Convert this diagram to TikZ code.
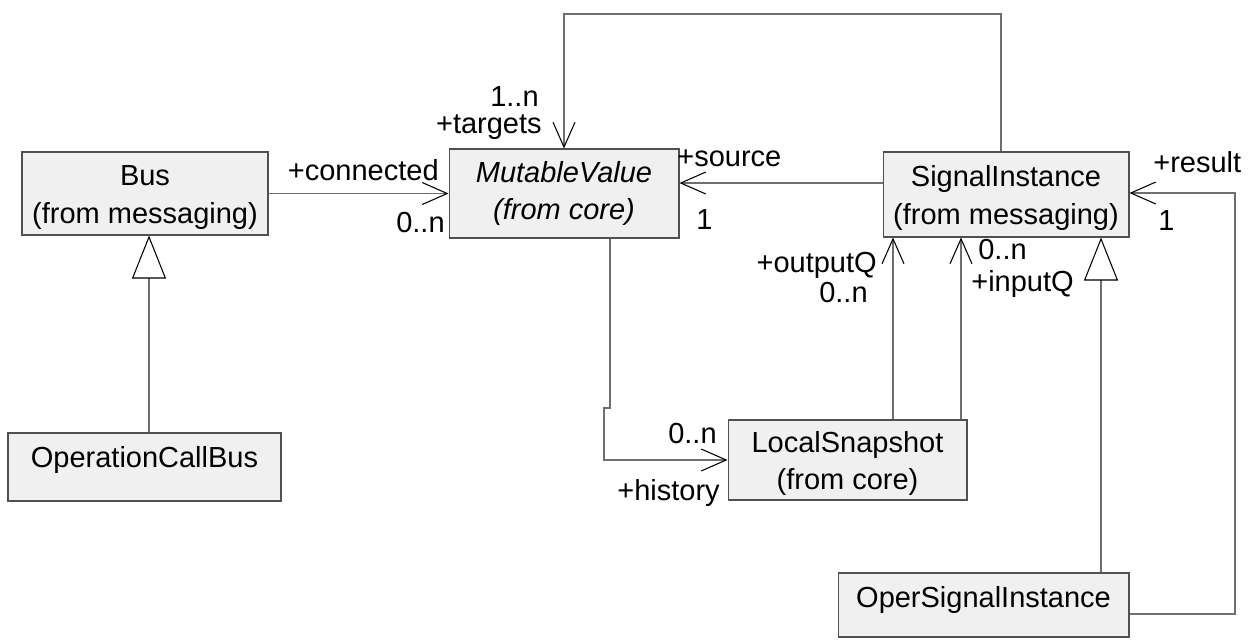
\documentclass[tikz,border=0pt]{standalone}
\usepackage{fontspec}
\setmainfont{Liberation Sans}
\usetikzlibrary{arrows.meta}
\definecolor{boxfill}{RGB}{240,240,240}
\definecolor{boxline}{RGB}{80,80,80}
\definecolor{wire}{RGB}{110,110,110}
% taller first line, pushes a two-line class name a little lower in its box
\newcommand{\headstrut}{\rule{0pt}{15.8pt}}

\begin{document}
\begin{tikzpicture}[x=0.02cm,y=-0.02cm,
  cls/.style={draw=boxline, fill=boxfill, line width=0.6pt, inner sep=0, align=center,
              font=\fontsize{16.5}{21.5}\selectfont},
  lbl/.style={inner sep=0, font=\fontsize{16.5}{20}\selectfont},
  assoc/.style={draw=wire, line width=0.6pt,
                -{Straight Barb[length=5mm,width=4.4mm,color=black,line width=0.6pt]}},
  gen/.style={draw=wire, line width=0.6pt,
              -{Triangle[open,length=8.6mm,width=6.8mm,color=black,fill=white,line width=0.6pt]}},
]
\useasboundingbox (0,0) rectangle (1250,640);

% classes
\node[cls, minimum width=4.92cm, minimum height=1.66cm] (bus) at (145,193.5)
  {\headstrut Bus\\(from messaging)};
\node[cls, minimum width=4.6cm, minimum height=1.78cm, font=\fontsize{16.5}{21.5}\selectfont\itshape] (mv) at (564,193.5)
  {MutableValue\\(from core)};
\node[cls, minimum width=4.92cm, minimum height=1.7cm] (si) at (1006,194.5)
  {\headstrut SignalInstance\\(from messaging)};
\node[cls, minimum width=4.78cm, minimum height=1.6cm] (ls) at (847.5,460)
  {\headstrut LocalSnapshot\\(from core)};
\node[cls, minimum width=5.46cm, minimum height=1.36cm] (ocb) at (144.5,467) {};
\node[lbl, anchor=base] (ocbname) at (144.5,467) {OperationCallBus};
\node[cls, minimum width=5.82cm, minimum height=1.28cm] (osi) at (983.5,605) {};
\node[lbl, anchor=base] (osiname) at (983.5,607) {OperSignalInstance};

% routing points
\coordinate (loopR) at (1001,14);
\coordinate (loopL) at (564,14);
\coordinate (srcY) at (0,183);
\coordinate (histA) at (610,408);
\coordinate (histB) at (604,408);
\coordinate (histC) at (604,460);
\coordinate (outX) at (893,0);
\coordinate (inX) at (961,0);
\coordinate (genX) at (1101,0);
\coordinate (resA) at (1235,614);
\coordinate (resB) at (1235,193);
\coordinate (busX) at (149,0);

% associations
\draw[assoc] (bus.east) -- (mv.west);
\draw[assoc] (si.west |- srcY) -- (mv.east |- srcY);
\draw[assoc] (si.north -| loopR) -- (loopR) -- (loopL) -- (mv.north);
\draw[assoc] (mv.south -| histA) -- (histA) -- (histB) -- (histC) -- (ls.west);
\draw[assoc] (ls.north -| outX) -- (si.south -| outX);
\draw[assoc] (ls.north -| inX) -- (si.south -| inX);
\draw[assoc] (osi.east |- resA) -- (resA) -- (resB) -- (si.east |- resB);

% generalizations
\draw[gen] (osi.north -| genX) -- (si.south -| genX);
\draw[gen] (ocb.north -| busX) -- (bus.south -| busX);

% role names and multiplicities
\node[lbl, anchor=base east] (l1) at (439,180) {+connected};
\node[lbl, anchor=base east] (l2) at (445,232) {0..n};
\node[lbl, anchor=base east] (l3) at (539,106) {1..n};
\node[lbl, anchor=base east] (l4) at (542,133) {+targets};
\node[lbl, anchor=base west] (l5) at (677,166) {+source};
\node[lbl, anchor=base west] (l6) at (696,229) {1};
\node[lbl, anchor=base west] (l7) at (1153,172) {+result};
\node[lbl, anchor=base west] (l8) at (1158,230) {1};
\node[lbl, anchor=base west] (l9) at (978,259) {0..n};
\node[lbl, anchor=base west] (l10) at (971,291) {+inputQ};
\node[lbl, anchor=base east] (l11) at (877,272) {+outputQ};
\node[lbl, anchor=base east] (l12) at (868,302) {0..n};
\node[lbl, anchor=base east] (l13) at (717,443) {0..n};
\node[lbl, anchor=base east] (l14) at (720,500) {+history};
\end{tikzpicture}
\end{document}
